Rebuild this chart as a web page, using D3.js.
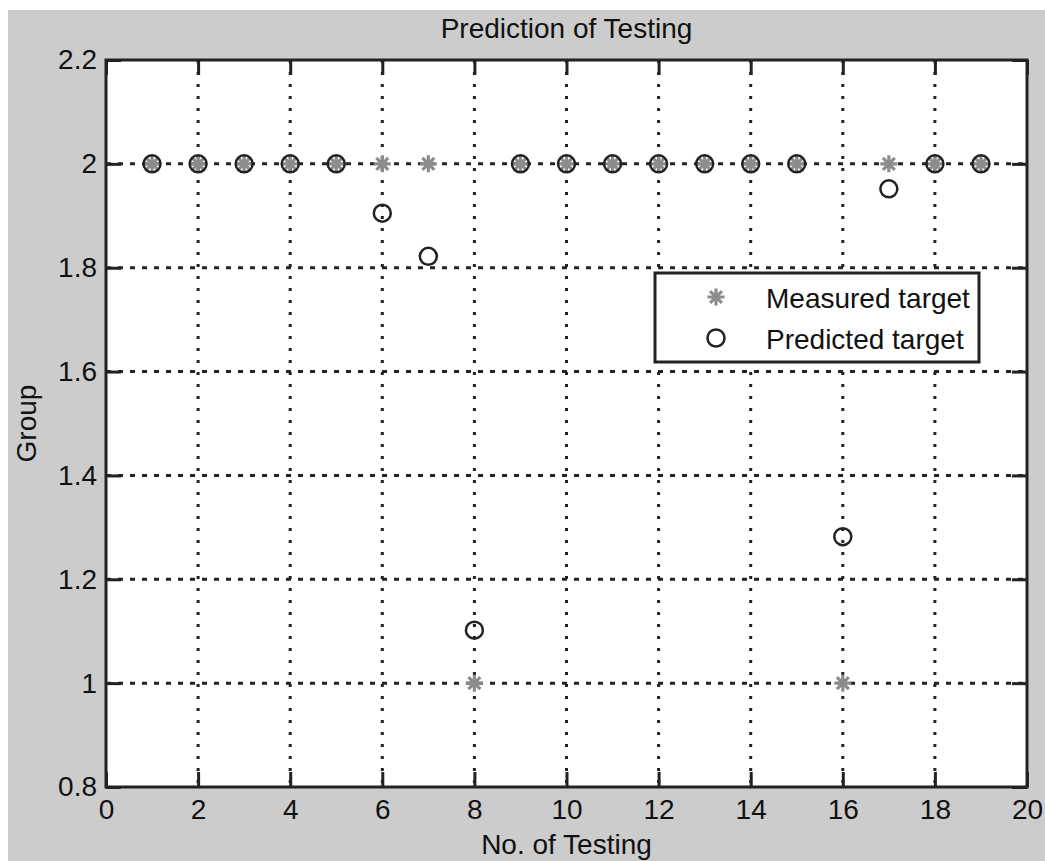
<!DOCTYPE html>
<html>
<head>
<meta charset="utf-8">
<script src="https://cdn.jsdelivr.net/npm/d3@7"></script>
<style>
  body { margin: 0; background: #fff; }
  text { font-family: "Liberation Sans", Arial, sans-serif; fill: #111; }
</style>
</head>
<body>
<div id="chart"></div>
<script>
// data
const testNo = [1, 2, 3, 4, 5, 6, 7, 8, 9, 10, 11, 12, 13, 14, 15, 16, 17, 18, 19];
const measured = [2, 2, 2, 2, 2, 2, 2, 1, 2, 2, 2, 2, 2, 2, 2, 1, 2, 2, 2];
const predicted = [2, 2, 2, 2, 2, 1.905, 1.822, 1.102, 2, 2, 2, 2, 2, 2, 2, 1.282, 1.952, 2, 2];
const xTicks = [0, 2, 4, 6, 8, 10, 12, 14, 16, 18, 20];
const yTicks = [0.8, 1, 1.2, 1.4, 1.6, 1.8, 2, 2.2];
const legendLabels = ["Measured target", "Predicted target"];

const W = 1045, H = 861;
const margin = { top: 60, right: 18, bottom: 74, left: 106 };
const width = W - margin.left - margin.right;
const height = H - margin.top - margin.bottom;
const fs = "28px";

const svg = d3.select("#chart").append("svg")
    .attr("width", W)
    .attr("height", H);

// grey figure background
svg.append("rect")
    .attr("x", 8).attr("y", 10)
    .attr("width", W - 8).attr("height", H - 10)
    .attr("fill", "#cccccc");

const g = svg.append("g")
    .attr("transform", `translate(${margin.left},${margin.top})`);

g.append("rect")
    .attr("width", width).attr("height", height)
    .attr("fill", "#fff");

const x = d3.scaleLinear().domain([0, 20]).range([0, width]);
const y = d3.scaleLinear().domain([0.8, 2.2]).range([height, 0]);

// grid
g.append("g").selectAll("line")
    .data(xTicks.slice(1, -1))
    .join("line")
    .attr("x1", d => x(d)).attr("x2", d => x(d))
    .attr("y1", 0).attr("y2", height)
    .attr("stroke", "#222").attr("stroke-width", 3)
    .attr("stroke-dasharray", "3,9");

g.append("g").selectAll("line")
    .data(yTicks.slice(1, -1))
    .join("line")
    .attr("y1", d => y(d)).attr("y2", d => y(d))
    .attr("x1", 0).attr("x2", width)
    .attr("stroke", "#222").attr("stroke-width", 3)
    .attr("stroke-dasharray", "5,7");

// axes, ticks pointing inward
const tickLen = 15;
const xAxis = g.append("g")
    .attr("transform", `translate(0,${height})`)
    .call(d3.axisBottom(x).tickValues(xTicks).tickSizeInner(-tickLen).tickSizeOuter(0).tickPadding(12));
const xTop = g.append("g")
    .call(d3.axisTop(x).tickValues(xTicks).tickSizeInner(-tickLen).tickSizeOuter(0).tickFormat(""));
const yAxis = g.append("g")
    .call(d3.axisLeft(y).tickValues(yTicks).tickSizeInner(-tickLen).tickSizeOuter(0).tickPadding(9)
      .tickFormat(d => d3.format("~g")(d)));
const yRight = g.append("g")
    .attr("transform", `translate(${width},0)`)
    .call(d3.axisRight(y).tickValues(yTicks).tickSizeInner(-tickLen).tickSizeOuter(0).tickFormat(""));

[xAxis, xTop, yAxis, yRight].forEach(a => {
  a.select(".domain").remove();
  a.selectAll(".tick line").attr("stroke", "#222").attr("stroke-width", 3);
  a.selectAll("text").style("font-size", fs).attr("fill", "#111");
});

// frame
g.append("rect")
    .attr("width", width).attr("height", height)
    .attr("fill", "none").attr("stroke", "#222").attr("stroke-width", 3);

// markers
function star(sel, s) {
  sel.append("path")
    .attr("d", `M${-s},0H${s}M0,${-s}V${s}M${-s * 0.7},${-s * 0.7}L${s * 0.7},${s * 0.7}M${-s * 0.7},${s * 0.7}L${s * 0.7},${-s * 0.7}`)
    .attr("stroke", "#8c8c8c").attr("stroke-width", 3.2).attr("fill", "none");
}

const pts = testNo.map((t, i) => ({ t, m: measured[i], p: predicted[i] }));

g.append("g").selectAll("g")
    .data(pts)
    .join("g")
    .attr("transform", d => `translate(${x(d.t)},${y(d.m)})`)
    .each(function () { star(d3.select(this), 8.5); });

g.append("g").selectAll("circle")
    .data(pts)
    .join("circle")
    .attr("cx", d => x(d.t)).attr("cy", d => y(d.p))
    .attr("r", 8.5)
    .attr("fill", "none").attr("stroke", "#222").attr("stroke-width", 2.5);

// legend
const lg = svg.append("g").attr("transform", "translate(655,273)");
lg.append("rect")
    .attr("width", 324).attr("height", 89)
    .attr("fill", "#fff").attr("stroke", "#222").attr("stroke-width", 3);
const l1 = lg.append("g").attr("transform", "translate(61,24)");
star(l1, 8.5);
lg.append("circle").attr("cx", 61).attr("cy", 65).attr("r", 8.5)
    .attr("fill", "none").attr("stroke", "#222").attr("stroke-width", 2.5);
lg.selectAll("text.leg")
    .data(legendLabels)
    .join("text")
    .attr("class", "leg")
    .attr("x", 111).attr("y", (d, i) => 25 + i * 41)
    .attr("dy", "0.35em")
    .style("font-size", fs)
    .text(d => d);

// title and axis labels
svg.append("text")
    .attr("x", margin.left + width / 2).attr("y", 38)
    .attr("text-anchor", "middle")
    .style("font-size", fs)
    .text("Prediction of Testing");

svg.append("text")
    .attr("x", margin.left + width / 2).attr("y", 854)
    .attr("text-anchor", "middle")
    .style("font-size", fs)
    .text("No. of Testing");

svg.append("text")
    .attr("transform", `translate(36,${margin.top + height / 2}) rotate(-90)`)
    .attr("text-anchor", "middle")
    .style("font-size", fs)
    .text("Group");
</script>
</body>
</html>
